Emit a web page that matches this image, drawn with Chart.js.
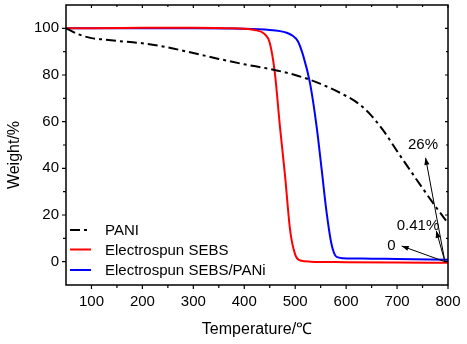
<!DOCTYPE html>
<html>
<head>
<meta charset="utf-8">
<script src="https://cdn.jsdelivr.net/npm/chart.js@4.4.1/dist/chart.umd.min.js"></script>
<style>
  html, body { margin: 0; padding: 0; background: #fff; }
  #wrap { width: 467px; height: 344px; }
</style>
</head>
<body>
<div id="wrap"><canvas id="chart"></canvas></div>
<script>
// TGA curves
const paniT = [50, 75, 100, 125, 150, 200, 250, 300, 350, 400, 450, 500, 550, 600, 625, 650, 675, 700, 725, 750, 775, 800];
const paniW = [100, 97.4, 95.8, 95.2, 94.6, 93.6, 91.8, 89.4, 86.9, 84.6, 82.6, 80.0, 76.2, 71.0, 67.6, 62.5, 55.6, 47.4, 39.4, 31.5, 23.8, 16.5];

const sebsT = [50, 100, 200, 300, 380, 420, 440, 450, 460, 470, 480, 490, 500, 510, 530, 600, 700, 800];
const sebsW = [100, 100, 100.2, 100.3, 100, 99.3, 97.5, 93.8, 81, 58, 37, 13.5, 3, 0.5, 0, -0.2, -0.4, -0.5];

const panT = [50, 200, 300, 400, 450, 470, 483, 495, 505, 516, 529, 542, 552, 561, 571, 581, 594, 650, 700, 800];
const panW = [100, 100, 100, 99.8, 99.3, 98.8, 98.1, 96.8, 94.6, 88.1, 76.6, 58, 39.4, 22.2, 7.8, 2.1, 1.5, 1.3, 1.1, 0.8];

const labels = ['PANI', 'Electrospun SEBS', 'Electrospun SEBS/PANi'];
const xTicks = [100, 200, 300, 400, 500, 600, 700, 800];
const yTicks = [0, 20, 40, 60, 80, 100];
const xMinor = [150, 250, 350, 450, 550, 650, 750];
const yMinor = [10, 30, 50, 70, 90];

// residue callouts: text, text position, arrow tip (all in data units)
const notes = [
    { text: '26%',   tx: 751, ty: 50,   ax: 756, ay: 44.5 },
    { text: '0.41%', tx: 741, ty: 15.4, ax: 777, ay: 13.2 },
    { text: '0',     tx: 689, ty: 6.8,  ax: 709, ay: 6.7 }
];
const noteFrom = { x: 794, y: 0 };

const FONT = 'Arial, "Liberation Sans", sans-serif';
const toXY = (xs, ys) => xs.map((x, i) => ({ x: x, y: ys[i] }));

const arrow = (c, x1, y1, x2, y2) => {
    c.beginPath();
    c.moveTo(x1, y1);
    c.lineTo(x2, y2);
    c.stroke();
    const a = Math.atan2(y2 - y1, x2 - x1);
    const len = 7, w = 2.6;
    c.beginPath();
    c.moveTo(x2, y2);
    c.lineTo(x2 - len * Math.cos(a) + w * Math.sin(a), y2 - len * Math.sin(a) - w * Math.cos(a));
    c.lineTo(x2 - len * Math.cos(a) - w * Math.sin(a), y2 - len * Math.sin(a) + w * Math.cos(a));
    c.closePath();
    c.fill();
};

const decor = {
    id: 'decor',
    afterDatasetsDraw(chart) {
        const c = chart.ctx;
        const { left, right, top, bottom } = chart.chartArea;
        const xs = chart.scales.x, ys = chart.scales.y;
        c.save();
        c.strokeStyle = '#000';
        c.fillStyle = '#000';
        c.lineWidth = 1.5;
        c.strokeRect(left, top, right - left, bottom - top);

        // ticks: outward on bottom/left, inward on top/right
        c.lineWidth = 1.2;
        c.beginPath();
        const tx = (v, len) => {
            const p = xs.getPixelForValue(v);
            c.moveTo(p, bottom); c.lineTo(p, bottom + len);
            c.moveTo(p, top); c.lineTo(p, top + len - 1);
        };
        const ty = (v, len) => {
            const p = ys.getPixelForValue(v);
            c.moveTo(left, p); c.lineTo(left - len, p);
            c.moveTo(right, p); c.lineTo(right - len + 1, p);
        };
        xTicks.forEach(v => tx(v, 4));
        xMinor.forEach(v => tx(v, 3));
        yTicks.forEach(v => ty(v, 4));
        yMinor.forEach(v => ty(v, 3));
        c.stroke();

        // callouts
        c.lineWidth = 1;
        c.font = '15px ' + FONT;
        c.textAlign = 'center';
        c.textBaseline = 'middle';
        const fx = xs.getPixelForValue(noteFrom.x), fy = ys.getPixelForValue(noteFrom.y);
        notes.forEach(n => {
            arrow(c, fx, fy, xs.getPixelForValue(n.ax), ys.getPixelForValue(n.ay));
            c.fillText(n.text, xs.getPixelForValue(n.tx), ys.getPixelForValue(n.ty));
        });

        // legend inside plot
        c.textAlign = 'left';
        const rows = [230, 249.5, 270];
        chart.data.datasets.forEach((ds, i) => {
            c.strokeStyle = ds.borderColor;
            c.lineWidth = 2;
            c.setLineDash(ds.borderDash || []);
            c.beginPath();
            c.moveTo(70, rows[i]);
            c.lineTo(91, rows[i]);
            c.stroke();
            c.setLineDash([]);
            c.fillStyle = '#000';
            c.fillText(ds.label, 105, rows[i] + 1);
        });

        // axis titles
        c.font = '16px ' + FONT;
        c.textAlign = 'center';
        c.fillText('Temperature/\u2103', (left + right) / 2, 330);
        c.translate(15, 155);
        c.rotate(-Math.PI / 2);
        c.fillText('Weight/%', 0, 0);
        c.restore();
    }
};

new Chart(document.getElementById('chart'), {
    type: 'line',
    data: {
        datasets: [
            { label: labels[0], data: toXY(paniT, paniW), borderColor: '#000', borderWidth: 2, borderDash: [10, 4, 3, 4] },
            { label: labels[1], data: toXY(sebsT, sebsW), borderColor: '#ff0000', borderWidth: 2 },
            { label: labels[2], data: toXY(panT, panW), borderColor: '#0000ff', borderWidth: 2 }
        ]
    },
    options: {
        responsive: true,
        maintainAspectRatio: false,
        animation: false,
        layout: { padding: { left: 0, top: 5, right: 19, bottom: 0 } },
        elements: {
            point: { radius: 0 },
            line: { cubicInterpolationMode: 'monotone', fill: false }
        },
        plugins: { legend: { display: false }, tooltip: { enabled: false } },
        scales: {
            x: {
                type: 'linear',
                min: 50, max: 800,
                afterBuildTicks: s => { s.ticks = xTicks.map(v => ({ value: v })); },
                afterFit: s => { s.height = 59; s.paddingLeft = 0; s.paddingRight = 0; },
                grid: { display: false, drawTicks: false },
                border: { display: false },
                ticks: { color: '#000', font: { family: FONT, size: 15 }, padding: 8, maxRotation: 0 }
            },
            y: {
                type: 'linear',
                min: -10, max: 110,
                afterBuildTicks: s => { s.ticks = yTicks.map(v => ({ value: v })); },
                afterFit: s => { s.width = 66; s.paddingTop = 0; s.paddingBottom = 0; },
                grid: { display: false, drawTicks: false },
                border: { display: false },
                ticks: { color: '#000', font: { family: FONT, size: 15 }, padding: 7 }
            }
        }
    },
    plugins: [decor]
});
</script>
</body>
</html>
